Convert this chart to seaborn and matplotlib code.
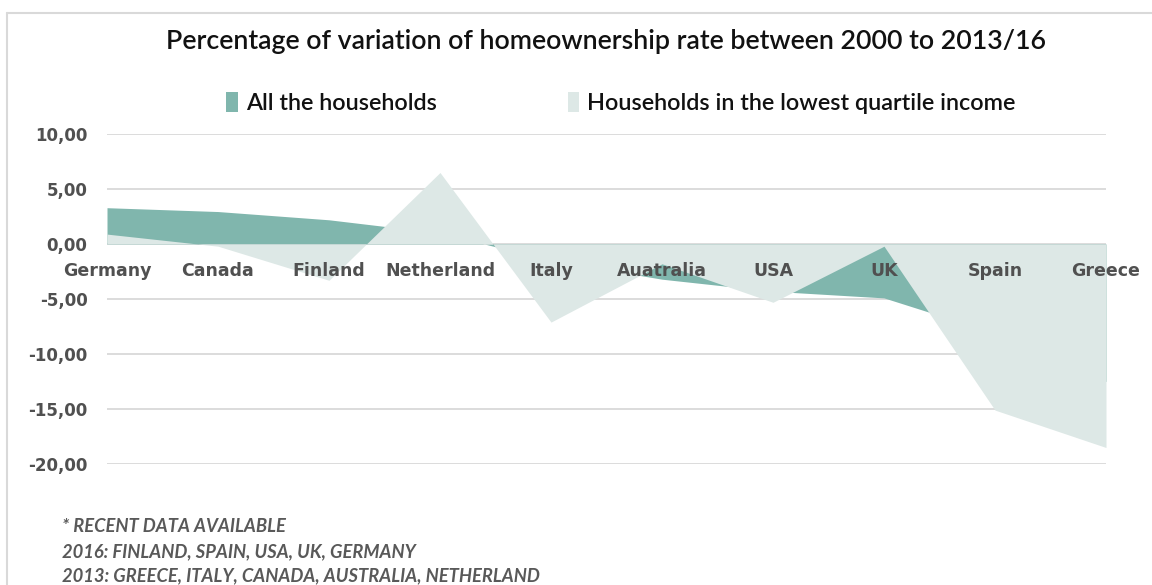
import matplotlib
matplotlib.use("Agg")
import numpy as np
import pandas as pd
import seaborn as sns
import matplotlib.pyplot as plt
from matplotlib.lines import Line2D
from matplotlib.patches import Patch

# ---- data ----
countries = ["Germany", "Canada", "Finland", "Netherland", "Italy",
             "Auatralia", "USA", "UK", "Spain", "Greece"]
all_households = [3.3, 2.95, 2.2, 1.0, -1.5, -3.2, -4.3, -4.9, -8.1, -12.5]
lowest_quartile = [0.9, -0.2, -3.3, 6.5, -7.1, -1.8, -5.3, -0.2, -15.1, -18.5]
series_names = ["All the households", "Households in the lowest quartile income"]
yticks = [10, 5, 0, -5, -10, -15, -20]
title = "Percentage of variation of homeownership rate between 2000 to 2013/16"
footnotes = ["* RECENT DATA AVAILABLE",
             "2016: FINLAND, SPAIN, USA, UK, GERMANY",
             "2013: GREECE, ITALY, CANADA, AUSTRALIA, NETHERLAND"]

# ---- style ----
TEAL = "#80b6ad"
LIGHT = "#dde8e6"
GRAY = "#595959"
W, H = 1152, 585

sns.set_theme(style="white")
plt.rcParams["font.family"] = ["Lato", "DejaVu Sans"]

fig = plt.figure(figsize=(W / 100, H / 100), dpi=100)
ax = fig.add_axes([107 / W, 1 - 464 / H, (1106 - 107) / W, (464 - 134) / H])

df = pd.DataFrame({"pos": np.arange(len(countries)),
                   "all": all_households, "low": lowest_quartile})

sns.lineplot(data=df, x="pos", y="all", ax=ax, color=TEAL, linewidth=0, legend=False)
sns.lineplot(data=df, x="pos", y="low", ax=ax, color=LIGHT, linewidth=0, legend=False)
ax.fill_between(df["pos"], df["all"], 0, color=TEAL, lw=0, zorder=1)
ax.fill_between(df["pos"], df["low"], 0, color=LIGHT, lw=0, zorder=2)

ax.set_xlim(0, len(countries) - 1)
ax.set_ylim(min(yticks), max(yticks))
ax.set_xlabel("")
ax.set_ylabel("")

for s in ax.spines.values():
    s.set_visible(False)
ax.spines["bottom"].set_position(("data", 0))

ax.set_xticks(df["pos"], countries)
ax.tick_params(axis="x", length=0, pad=13, labelsize=12.5, labelcolor="#505050")
for lab in ax.get_xticklabels():
    lab.set_fontweight("bold")
    lab.set_family(["DejaVu Sans"])

ax.set_yticks(yticks, [f"{v:.2f}".replace(".", ",") for v in yticks])
ax.tick_params(axis="y", length=0, pad=14, labelsize=12, labelcolor="#505050")
for lab in ax.get_yticklabels():
    lab.set_fontweight("bold")
    lab.set_family(["DejaVu Sans"])

ax.yaxis.grid(True, color="#d9d9d9", lw=1.3)
ax.xaxis.grid(False)
ax.yaxis.set_zorder(0.5)
ax.xaxis.set_zorder(5)

# title
fig.text(606 / W, 1 - 42 / H, title, ha="center", va="center",
         fontsize=19.3, fontweight="semibold", color="#111111")

# legend
handles = [Patch(facecolor=TEAL, edgecolor="none", label=series_names[0]),
           Patch(facecolor=LIGHT, edgecolor="none", label=series_names[1])]
fig.legend(handles=handles, loc="center", bbox_to_anchor=(621 / W, 1 - 103 / H),
           ncol=2, frameon=False, prop={"size": 16.8, "weight": "semibold"},
           handlelength=0.5, handleheight=0.9,
           handletextpad=0.35, columnspacing=5.6, labelcolor="#111111")

# footnotes
for i, line in enumerate(footnotes):
    fig.text(62 / W, 1 - (527 + 24.5 * i) / H, line, ha="left", va="center",
             fontsize=13.2, style="italic", fontweight="bold", color=GRAY)

# frame
fig.add_artist(Line2D([7 / W, 1], [1 - 13 / H] * 2, transform=fig.transFigure,
                      color="#d9d9d9", lw=1.5))
fig.add_artist(Line2D([7 / W] * 2, [0, 1 - 13 / H], transform=fig.transFigure,
                      color="#d9d9d9", lw=1.5))

fig.savefig("out.png", dpi=100)
